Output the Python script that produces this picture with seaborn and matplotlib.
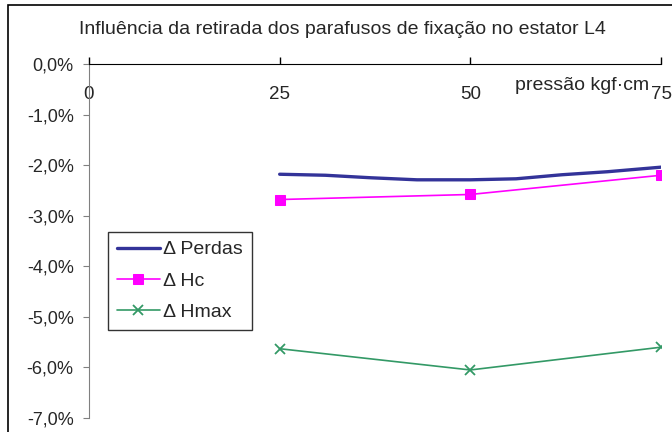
import matplotlib
matplotlib.use("Agg")
import matplotlib.pyplot as plt
import matplotlib.ticker as mticker
import numpy as np
import pandas as pd
import seaborn as sns

# %% data (values in %)

pressao = [25, 50, 75]
perdas_x = [25, 31, 37, 43, 50, 56, 62, 68, 75]
perdas = [-2.18, -2.20, -2.25, -2.29, -2.29, -2.27, -2.19, -2.13, -2.04]
hc = [-2.68, -2.58, -2.20]
hmax = [-5.63, -6.05, -5.60]

y_ticks = [0, -1, -2, -3, -4, -5, -6, -7]
x_ticks = [0, 25, 50, 75]

titulo = "Influência da retirada dos parafusos de fixação no estator L4"
rotulo_x = "pressão kgf·cm"

# %% plot

sns.set_style("white")
plt.rcParams["font.family"] = ["Liberation Sans", "DejaVu Sans"]

fig = plt.figure(figsize=(6.72, 4.32), dpi=100)
ax = fig.add_axes([89 / 672, 1 - 418 / 432, (661 - 89) / 672, (418 - 64) / 432])

sns.lineplot(x=perdas_x, y=perdas, color="#333399", lw=2.4, ax=ax,
             label="Δ Perdas")
sns.lineplot(x=pressao, y=hc, color="#FF00FF", lw=1.2, marker="s", ms=7,
             mec="#FF00FF", ax=ax, label="Δ Hc")
sns.lineplot(x=pressao, y=hmax, color="#339966", lw=1.2, marker="x", ms=7,
             mew=1.3, mec="#339966", ax=ax, label="Δ Hmax")

ax.set_xlim(0, 75)
ax.set_ylim(-7, 0)
ax.set_xticks(x_ticks)
ax.set_yticks(y_ticks)
ax.yaxis.set_major_formatter(
    mticker.FuncFormatter(lambda v, p: f"{v:.1f}%".replace(".", ",")))

for s in ["top", "right"]:
    ax.spines[s].set_visible(False)
ax.spines["bottom"].set_position(("data", 0))
ax.spines["bottom"].set_color("black")
ax.spines["left"].set_color("#808080")
ax.tick_params(axis="x", direction="in", length=5, width=1, color="black",
               labelsize=13.5, pad=16, bottom=True)
ax.tick_params(axis="y", direction="out", length=4, color="#808080",
               labelsize=13, pad=7, left=True)
for t in ax.get_xticklabels():
    t.set_clip_on(False)
ax.set_xlabel("")
ax.set_ylabel("")

ax.text(55.8, -0.42, rotulo_x, fontsize=14, ha="left", va="center")
fig.text(342 / 672, 1 - 30 / 432, titulo, fontsize=14, ha="center",
         va="center")

leg = ax.legend(loc="upper left", bbox_to_anchor=(108 / 672, 1 - 232 / 432),
                bbox_transform=fig.transFigure, borderaxespad=0,
                fancybox=False, frameon=True, edgecolor="black",
                fontsize=14, handlelength=2.2, handletextpad=0.2,
                labelspacing=0.7, borderpad=0.45)
leg.get_frame().set_linewidth(1.0)

fig.add_artist(plt.Rectangle((8 / 672, -0.1), 1.2, 1 - 5 / 432 + 0.1,
                             transform=fig.transFigure, fill=False,
                             edgecolor="black", lw=1.2))

fig.savefig("out.png", dpi=100, facecolor="w")
